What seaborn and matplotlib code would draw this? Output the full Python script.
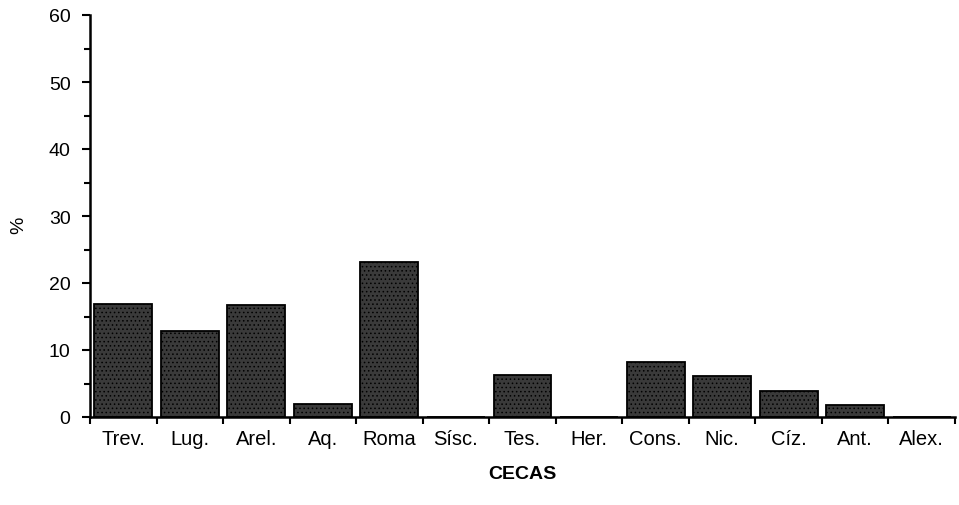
import numpy as np
import pandas as pd
import seaborn as sns
import matplotlib.pyplot as plt
from matplotlib.ticker import MultipleLocator, FixedLocator

# ---- Data ----
cecas = ["Trev.", "Lug.", "Arel.", "Aq.", "Roma", "Sísc.", "Tes.",
         "Her.", "Cons.", "Nic.", "Cíz.", "Ant.", "Alex."]
pct = [16.9, 12.8, 16.7, 2.0, 23.1, 0.0, 6.2, 0.0, 8.2, 6.1, 3.9, 1.8, 0.0]

df = pd.DataFrame({"ceca": cecas, "pct": pct})

sns.set_style("ticks")
plt.rcParams['font.family'] = ['Liberation Sans', 'DejaVu Sans']
plt.rcParams['hatch.color'] = '#8c8c8c'
plt.rcParams['hatch.linewidth'] = 0.6
plt.rcParams['text.color'] = 'black'
plt.rcParams['axes.labelcolor'] = 'black'
plt.rcParams['xtick.color'] = 'black'
plt.rcParams['ytick.color'] = 'black'
plt.rcParams['axes.edgecolor'] = 'black'

fig = plt.figure(figsize=(9.59, 5.06), dpi=100)
ax = fig.add_axes([90 / 959, 1 - 418 / 506, 865 / 959, 402 / 506])

sns.barplot(data=df, x="ceca", y="pct", color="#3a3a3a", edgecolor="black",
            linewidth=1.3, width=0.87, saturation=1, ax=ax)
for bar in ax.patches:
    bar.set_hatch("....")

ax.set_xlim(-0.5, len(cecas) - 0.5)
ax.set_ylim(0, 60)

# y axis: labelled every 10, minor every 5
ax.yaxis.set_major_locator(MultipleLocator(10))
ax.yaxis.set_minor_locator(MultipleLocator(5))
ax.tick_params(axis="y", which="major", length=6, width=1.5, labelsize=14, pad=8)
ax.tick_params(axis="y", which="minor", length=4, width=1.5)

# x axis: tick marks between categories, labels centred without marks
ax.xaxis.set_minor_locator(FixedLocator(np.arange(-0.5, len(cecas), 1.0)))
ax.tick_params(axis="x", which="major", length=0, labelsize=14.5, pad=9)
ax.tick_params(axis="x", which="minor", length=5, width=1.5)

for side in ["top", "right"]:
    ax.spines[side].set_visible(False)
for side in ["left", "bottom"]:
    ax.spines[side].set_linewidth(1.8)

ax.set_xlabel("CECAS", fontsize=14, fontweight="bold")
ax.xaxis.set_label_coords(0.5, -0.12)
ax.set_ylabel("%", fontsize=14)
ax.yaxis.set_label_coords(-0.072, 0.48)

fig.savefig("out.png", dpi=100)
